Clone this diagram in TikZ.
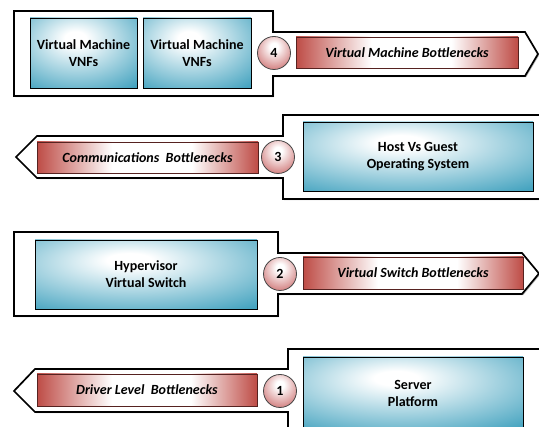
\documentclass[tikz,border=0pt]{standalone}
\usepackage{fontspec}
\setmainfont{Carlito}
\usetikzlibrary{shadows}

\definecolor{boxteal}{RGB}{70,164,192}
\definecolor{barred}{RGB}{190,76,70}
\definecolor{numred}{RGB}{204,110,110}

\pgfdeclareradialshading{boxglow}{\pgfpoint{-4bp}{11bp}}{color(0bp)=(white); color(5bp)=(white); color(40bp)=(boxteal); color(100bp)=(boxteal)}
\pgfdeclarehorizontalshading{barglow}{100bp}{color(0bp)=(barred); color(25bp)=(barred); color(42bp)=(white); color(60bp)=(white); color(75bp)=(barred); color(100bp)=(barred)}
\pgfdeclareradialshading{numglow}{\pgfpoint{0bp}{10bp}}{color(0bp)=(white); color(6bp)=(white); color(36bp)=(numred); color(100bp)=(numred)}

\tikzset{
  frame/.style={draw=black, line width=1.7pt, fill=white, line join=miter,
    drop shadow={shadow xshift=1.2pt, shadow yshift=-1.2pt, fill=gray!55, opacity=1}},
  layerbox/.style={draw=black, line width=0.7pt, shade, shading=boxglow, align=center,
    inner sep=0pt, font=\fontsize{14}{17}\selectfont\bfseries,
    drop shadow={shadow xshift=1pt, shadow yshift=-1pt, fill=gray!60, opacity=1}},
  bneck/.style={draw=barred!45!black, line width=0.7pt, shade, shading=barglow,
    inner sep=0pt, font=\fontsize{14}{16}\selectfont\bfseries\itshape},
  num/.style={circle, draw=gray!55!black, line width=0.8pt, shade, shading=numglow,
    minimum size=33pt, inner sep=0pt, font=\fontsize{14}{16}\selectfont\bfseries}
}

\begin{document}
\begin{tikzpicture}[x=1pt,y=-1pt]
\useasboundingbox (0,0) rectangle (539,427);
\clip (0,0) rectangle (539,427);

% layer 4
\draw[frame] (14,11) -- (273,11) -- (273,32) -- (525,32) -- (538,54) -- (525,76)
  -- (273,76) -- (273,96) -- (14,96) -- cycle;
\node[layerbox, minimum width=107pt, minimum height=70pt] (vmA) at (83.5,53) {Virtual Machine\\VNFs};
\node[layerbox, minimum width=108pt, minimum height=70pt] (vmB) at (197,53) {Virtual Machine\\VNFs};
\node[num] (n4) at (274,53) {4};
\node[bneck, minimum width=222pt, minimum height=31pt] (vmbneck) at (407,52.5) {Virtual Machine Bottlenecks};

% layer 3
\draw[frame] (16,157) -- (37,136) -- (283,136) -- (283,115) -- (560,115) -- (560,199)
  -- (283,199) -- (283,178) -- (37,178) -- cycle;
\node[bneck, minimum width=221pt, minimum height=31pt] (commbneck) at (147.5,157.5) {Communications\ \ Bottlenecks};
\node[num] (n3) at (278,157) {3};
\node[layerbox, minimum width=230pt, minimum height=69pt] (host) at (418,156.5) {Host Vs Guest\\Operating System};

% layer 2
\draw[frame] (14,232) -- (278,232) -- (278,253) -- (522,253) -- (539,273.5) -- (522,294)
  -- (278,294) -- (278,316) -- (14,316) -- cycle;
\node[layerbox, minimum width=222pt, minimum height=69pt] (hyper) at (146,274.5) {Hypervisor\\Virtual Switch};
\node[num] (n2) at (280,274) {2};
\node[bneck, minimum width=220pt, minimum height=32pt] (vsbneck) at (413,273) {Virtual Switch Bottlenecks};

% layer 1
\draw[frame] (14,391) -- (35,369) -- (288,369) -- (288,349) -- (560,349) -- (560,450)
  -- (288,450) -- (288,412) -- (35,412) -- cycle;
\node[bneck, minimum width=220pt, minimum height=32pt] (drvbneck) at (147,390) {Driver Level\ \ Bottlenecks};
\node[num] (n1) at (280,391) {1};
\node[layerbox, minimum width=220pt, minimum height=73pt] (server) at (413,393.5) {Server\\Platform};

\end{tikzpicture}
\end{document}
